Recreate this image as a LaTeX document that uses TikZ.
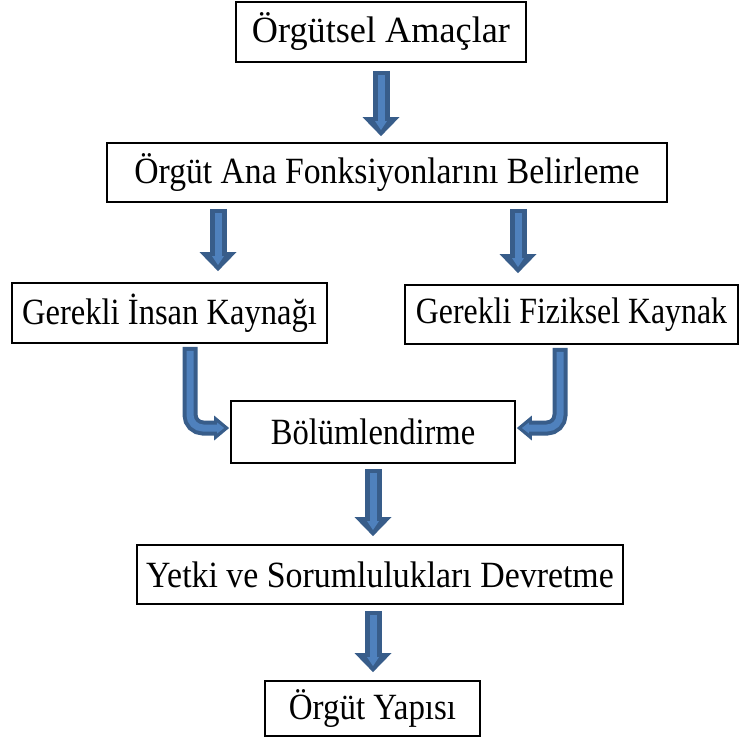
\documentclass[tikz,border=0pt]{standalone}
\usepackage{fontspec}
\setmainfont{Liberation Serif}
\usetikzlibrary{calc,arrows.meta}
\definecolor{okacik}{HTML}{4F81BD}
\definecolor{okkoyu}{HTML}{385D8A}
\newcommand{\dar}[2]{\scalebox{#1}[1]{#2}}

\begin{document}
\begin{tikzpicture}[x=1pt,y=-1pt,
        kutu/.style={draw, line width=1.8pt, inner sep=0pt, minimum height=59pt,
            font=\fontsize{37}{37}\selectfont},
        blokok/.style={draw=okacik, line width=7pt, shorten >=6pt, shorten <=4pt,
            -{Triangle[width=12pt,length=9pt,line width=0pt]},
            preaction={draw=okkoyu, line width=17pt, shorten >=0pt, shorten <=0pt,
                -{Triangle[width=37pt,length=19pt,line width=0pt]}}},
        egriok/.style={draw=okacik, line width=7pt, rounded corners=13pt, shorten >=5pt, shorten <=4pt,
            -{Triangle[width=11pt,length=7pt,line width=0pt]},
            preaction={draw=okkoyu, line width=15pt, shorten >=0pt, shorten <=0pt,
                -{Triangle[width=25pt,length=15pt,line width=0pt]}}}]
        \useasboundingbox (0,0) rectangle (741,737);

        % Boxes
        \node[kutu, minimum width=290pt, minimum height=60pt] (amac) at (381,32) {\dar{0.98}{Örgütsel Amaçlar}};
        \node[kutu, minimum width=560pt] (fonk) at (387,172.5) {\dar{0.91}{Örgüt Ana Fonksiyonlarını Belirleme}};
        \node[kutu, minimum width=315pt, minimum height=60pt] (insan) at (169.5,313) {\dar{0.88}{Gerekli İnsan Kaynağı}};
        \node[kutu, minimum width=333pt] (fizik) at (571.5,314.5) {\dar{0.86}{Gerekli Fiziksel Kaynak}};
        \node[kutu, minimum width=284pt, minimum height=62pt] (bolum) at (373,432) {\dar{0.88}{Bölümlendirme}};
        \node[kutu, minimum width=486pt] (yetki) at (380,574.5) {\dar{0.915}{Yetki ve Sorumlulukları Devretme}};
        \node[kutu, minimum width=215pt, minimum height=55pt] (yapi) at (372.5,708.5) {\dar{0.89}{Örgüt Yapısı}};

        % --- Straight arrows ---
        \draw[blokok] ([yshift=-8pt]amac.south) -- ([yshift=6pt]amac.south |- fonk.north);
        \draw[blokok] ([xshift=-169pt,yshift=-6pt]fonk.south) -- ([xshift=-169pt,yshift=11pt]fonk.south |- insan.north);
        \draw[blokok] ([xshift=131pt,yshift=-6pt]fonk.south) -- ([xshift=131pt,yshift=11pt]fonk.south |- fizik.north);
        \draw[blokok] ([yshift=-5pt]bolum.south) -- ([yshift=8pt]bolum.south |- yetki.north);
        \draw[blokok] ([xshift=-7pt,yshift=-6pt]yetki.south) -- ([xshift=-7pt,yshift=8pt]yetki.south |- yapi.north);

        % --- Bent arrows ---
        \draw[egriok] ([xshift=20.5pt,yshift=-3pt]insan.south) |- ([xshift=-1pt,yshift=4pt]bolum.west);
        \draw[egriok] ([xshift=-11.5pt,yshift=-3pt]fizik.south) |- ([xshift=1pt,yshift=4pt]bolum.east);
\end{tikzpicture}
\end{document}
